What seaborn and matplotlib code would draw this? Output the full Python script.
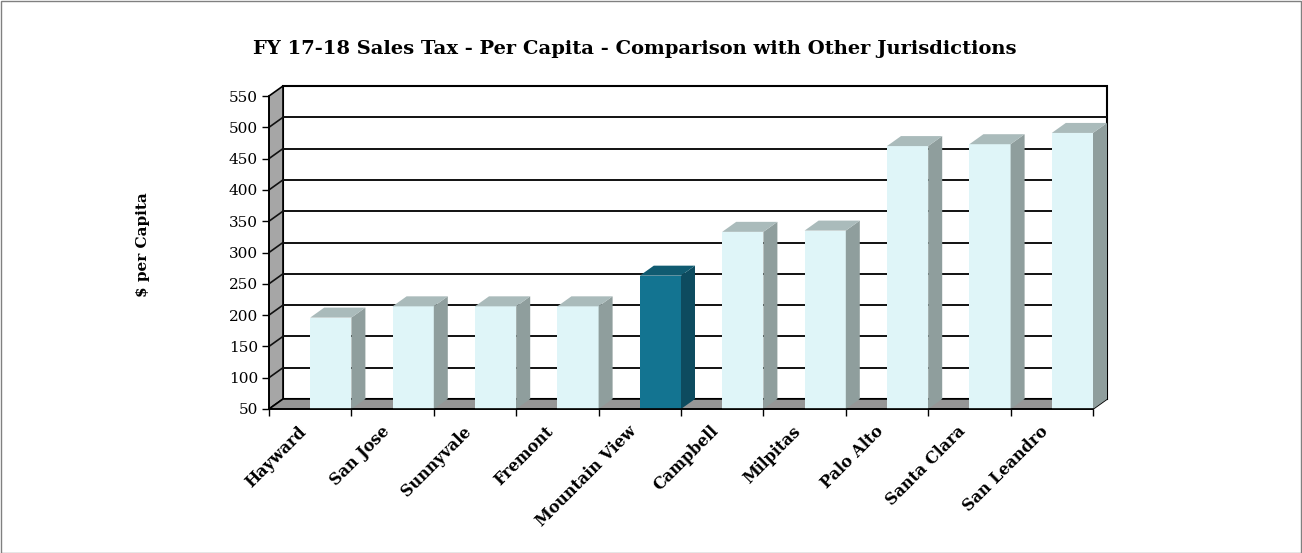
import numpy as np
import pandas as pd
import matplotlib
matplotlib.use("Agg")
import matplotlib.pyplot as plt
import seaborn as sns
from matplotlib.patches import Polygon, Rectangle
from matplotlib.colors import to_hex

# ---- data ----
cities = ["Hayward", "San Jose", "Sunnyvale", "Fremont", "Mountain View",
          "Campbell", "Milpitas", "Palo Alto", "Santa Clara", "San Leandro"]
values = [196, 214, 214, 214, 263, 333, 335, 470, 473, 491]
highlight = "Mountain View"
y_ticks = list(range(50, 551, 50))
title = "FY 17-18 Sales Tax - Per Capita - Comparison with Other Jurisdictions"
ylabel = "$ per Capita"

# ---- style ----
sns.set_theme(style="white")
plt.rcParams["font.family"] = ["DejaVu Serif"]

face_light, side_light, top_light = "#dff5f8", "#8f9e9d", "#aabbbb"
face_dark, side_dark, top_dark = "#137491", "#0d4b5f", "#105b71"
wall_gray, floor_gray = "#a6a6a6", "#969696"

W, H = 1302, 553
fig = plt.figure(figsize=(W / 100, H / 100), dpi=100)
ax = fig.add_axes([269 / W, (H - 409) / H, (1093 - 269) / W, (409 - 96) / H])
ax.patch.set_facecolor("none")

df = pd.DataFrame({"city": cities, "value": values})
palette = {c: (face_dark if c == highlight else face_light) for c in cities}
sns.barplot(data=df, x="city", y="value", hue="city", palette=palette,
            width=0.5, legend=False, ax=ax, saturation=1, linewidth=0, zorder=3)
bars = list(ax.patches)

x0, x1 = -0.75, len(cities) - 0.75
y0, y1 = y_ticks[0], y_ticks[-1]
ax.set_xlim(x0, x1)
ax.set_ylim(y0, y1)

# depth offset (14 px right, 10 px up) converted to data units
pos = ax.get_position()
ax_w_px, ax_h_px = pos.width * W, pos.height * H
dx = 14 * (x1 - x0) / ax_w_px
dy = 10 * (y1 - y0) / ax_h_px

# back wall, left wall, floor
ax.add_patch(Rectangle((x0 + dx, y0 + dy), x1 - x0, y1 - y0, facecolor="white",
                       edgecolor="black", lw=1.5, zorder=0.5, clip_on=False))
ax.add_patch(Polygon([(x0, y0), (x0, y1), (x0 + dx, y1 + dy), (x0 + dx, y0 + dy)],
                     closed=True, facecolor=wall_gray, edgecolor="black", lw=1.2,
                     zorder=0.6, clip_on=False))
ax.add_patch(Polygon([(x0, y0), (x1, y0), (x1 + dx, y0 + dy), (x0 + dx, y0 + dy)],
                     closed=True, facecolor=floor_gray, edgecolor="black", lw=1.2,
                     zorder=0.6, clip_on=False))
for v in y_ticks[1:-1]:
    ax.plot([x0 + dx, x1 + dx], [v + dy, v + dy], color="#111111", lw=1.4,
            zorder=0.7, clip_on=False, solid_capstyle="butt")
    ax.plot([x0, x0 + dx], [v, v + dy], color="#111111", lw=1.2,
            zorder=0.7, clip_on=False)

# 3D sides and tops of bars
for p in bars:
    bx = p.get_x()
    bw = p.get_width()
    h = p.get_y() + p.get_height()
    base = max(p.get_y(), y0)
    dark = to_hex(p.get_facecolor()) == face_dark
    sc, tc = (side_dark, top_dark) if dark else (side_light, top_light)
    ax.add_patch(Polygon([(bx + bw, base), (bx + bw, h), (bx + bw + dx, h + dy),
                          (bx + bw + dx, base + dy)], closed=True, facecolor=sc,
                         edgecolor="none", zorder=3, clip_on=False))
    ax.add_patch(Polygon([(bx, h), (bx + bw, h), (bx + bw + dx, h + dy),
                          (bx + dx, h + dy)], closed=True, facecolor=tc,
                         edgecolor="none", zorder=3, clip_on=False))

# axes
for s in ["top", "right"]:
    ax.spines[s].set_visible(False)
for s in ["left", "bottom"]:
    ax.spines[s].set_color("black")
    ax.spines[s].set_linewidth(1.2)
    ax.spines[s].set_zorder(4)

ax.set_yticks(y_ticks)
ax.tick_params(axis="y", left=True, direction="out", length=5, width=1,
               color="black", labelsize=11, pad=3, labelcolor="black")
ax.set_xticks(np.arange(len(cities)) - 0.25, labels=cities)
ax.set_xticks(np.arange(x0, x1 + 0.01, 1), minor=True)
ax.tick_params(axis="x", which="major", bottom=False, length=0, pad=10,
               labelsize=11.5, labelcolor="black")
ax.tick_params(axis="x", which="minor", bottom=True, direction="out", length=5,
               width=1, color="black")
for lbl in ax.get_xticklabels():
    lbl.set_rotation(45)
    lbl.set_ha("right")
    lbl.set_fontweight("bold")
ax.set_xlabel("")
ax.set_ylabel("")

fig.text(635 / W, 1 - 54 / H, title, ha="center", va="baseline",
         fontsize=14, fontweight="bold", color="black")
fig.text(143 / W, 1 - 245 / H, ylabel, ha="center", va="center", rotation=90,
         fontsize=11, fontweight="bold", color="black")

fig.add_artist(Rectangle((0.5 / W, 0.5 / H), 1 - 1.5 / W, 1 - 1.5 / H,
                         transform=fig.transFigure, fill=False,
                         edgecolor="#808080", lw=1))

fig.savefig("out.png", dpi=100)
